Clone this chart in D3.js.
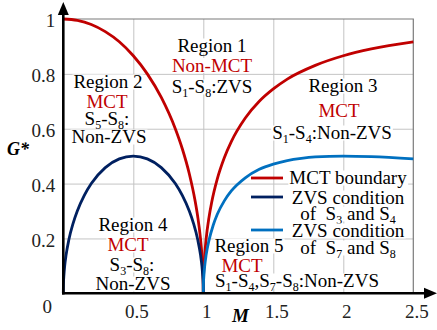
<!DOCTYPE html>
<html>
<head>
<meta charset="utf-8">
<script src="https://cdn.jsdelivr.net/npm/d3@7"></script>
</head>
<body style="margin:0">
<svg id="chart" width="437" height="330"></svg>
<script>
// values: [M, G*]
const mctBelow = [
  [0, 1], [0.1, 0.995], [0.2, 0.98], [0.3, 0.954], [0.4, 0.917], [0.5, 0.866],
  [0.6, 0.8], [0.7, 0.714], [0.8, 0.6], [0.85, 0.527], [0.9, 0.436], [0.94, 0.341],
  [0.96, 0.28], [0.98, 0.199], [0.99, 0.141], [0.995, 0.1], [0.999, 0.045], [1, 0]
];
const mctAbove = [
  [1, 0], [1.001, 0.045], [1.005, 0.1], [1.01, 0.14], [1.02, 0.197], [1.04, 0.275],
  [1.06, 0.332], [1.1, 0.417], [1.15, 0.494], [1.2, 0.553], [1.3, 0.639], [1.4, 0.7],
  [1.5, 0.745], [1.6, 0.781], [1.8, 0.831], [2, 0.866], [2.2, 0.891], [2.5, 0.917]
];
const zvsS3S4 = [
  [0, 0], [0.001, 0.032], [0.005, 0.07], [0.01, 0.1], [0.02, 0.14], [0.04, 0.196],
  [0.07, 0.255], [0.1, 0.3], [0.15, 0.357], [0.2, 0.4], [0.3, 0.458], [0.4, 0.49],
  [0.5, 0.5], [0.6, 0.49], [0.7, 0.458], [0.8, 0.4], [0.85, 0.357], [0.9, 0.3],
  [0.93, 0.255], [0.96, 0.196], [0.98, 0.14], [0.99, 0.1], [0.995, 0.07],
  [0.999, 0.032], [1, 0]
];
const zvsS7S8 = [
  [1, 0], [1.001, 0.032], [1.005, 0.07], [1.01, 0.099], [1.02, 0.139], [1.04, 0.192],
  [1.07, 0.247], [1.1, 0.288], [1.15, 0.337], [1.2, 0.373], [1.3, 0.421], [1.4, 0.452],
  [1.5, 0.471], [1.6, 0.484], [1.7, 0.492], [1.8, 0.497], [2, 0.5], [2.2, 0.498],
  [2.5, 0.49]
];

const xTicks = [0.5, 1, 1.5, 2, 2.5];
const yTicks = [0.2, 0.4, 0.6, 0.8, 1];
const xGrid = [0.5, 1, 1.5, 2];
const yGrid = [0.2, 0.4, 0.6, 0.8];

const region1Text = ["Region 1", "Non-MCT", "S_1-S_8:ZVS"];
const region2Text = ["Region 2", "MCT", "S_5-S_8:", "Non-ZVS"];
const region3Text = ["Region 3", "MCT", "S_1-S_4:Non-ZVS"];
const region4Text = ["Region 4", "MCT", "S_3-S_8:", "Non-ZVS"];
const region5Text = ["Region 5", "MCT", "S_1-S_4,S_7-S_8:Non-ZVS"];

const legendNames = ["MCT boundary", ["ZVS condition", "of\u00a0 S_3 and S_4"], ["ZVS condition", "of\u00a0 S_7 and S_8"]];

const red = "#c00000", navy = "#002060", blue = "#0070c0";
const serif = "Liberation Serif";

const svg = d3.select("#chart");
const x = d3.scaleLinear().domain([0, 2.5]).range([63.3, 413.3]);
const y = d3.scaleLinear().domain([0, 1]).range([293.3, 19]);

// grid
svg.append("g")
  .attr("transform", "translate(0," + y(0) + ")")
  .call(d3.axisBottom(x).tickValues(xGrid).tickSize(-(y(0) - y(1))).tickFormat(""))
  .call(g => g.select(".domain").remove())
  .selectAll("line").attr("stroke", "#c4c4c4").attr("stroke-width", 1);

svg.append("g")
  .attr("transform", "translate(" + x(0) + ",0)")
  .call(d3.axisLeft(y).tickValues(yGrid).tickSize(-(x(2.5) - x(0))).tickFormat(""))
  .call(g => g.select(".domain").remove())
  .selectAll("line").attr("stroke", "#c4c4c4").attr("stroke-width", 1);

// frame top and right
svg.append("path")
  .attr("d", "M" + x(0) + "," + y(1) + "H" + x(2.5) + "V" + y(0))
  .attr("fill", "none").attr("stroke", "#7a7a7a").attr("stroke-width", 1.2);

// text with _n subscripts
function richText(g, str, px, py, anchor, color) {
  const t = g.append("text")
    .attr("font-family", serif)
    .attr("font-size", 19)
    .attr("x", px).attr("y", py)
    .attr("text-anchor", anchor)
    .attr("fill", color);
  const parts = str.split(/_(\d)/);
  parts.forEach((p, i) => {
    if (i % 2 === 1) {
      t.append("tspan").attr("font-size", 12).attr("dy", 4).text(p);
    } else if (p) {
      t.append("tspan").attr("dy", i > 0 ? -4 : 0).text(p);
    }
  });
  return t;
}

function labelLine(str, px, py, anchor, color) {
  const g = svg.append("g");
  const bg = g.append("rect").attr("fill", "#fff");
  const t = richText(g, str, px, py, anchor, color);
  const b = t.node().getBBox();
  bg.attr("x", b.x - 1).attr("width", b.width + 2)
    .attr("y", py - 13.5).attr("height", 15);
}

const regions = [
  { lines: region1Text, xs: [212, 212, 212], ys: [52, 71.5, 93] },
  { lines: region2Text, xs: [108, 107, 107, 109], ys: [88, 108, 125, 143] },
  { lines: region3Text, xs: [343, 339, 332], ys: [92, 117, 139] },
  { lines: region4Text, xs: [133, 128, 132, 133], ys: [231, 251, 271, 290] },
  { lines: region5Text, xs: [249, 242, 297], ys: [252, 272, 287] }
];
regions.forEach(r => {
  r.lines.forEach((s, i) => labelLine(s, r.xs[i], r.ys[i], "middle", i === 1 ? red : "#000"));
});

// curves
const line = d3.line().x(d => x(d[0])).y(d => y(d[1])).curve(d3.curveMonotoneX);
[[mctBelow, red], [mctAbove, red], [zvsS3S4, navy], [zvsS7S8, blue]].forEach(([d, c]) => {
  svg.append("path").datum(d)
    .attr("d", line)
    .attr("fill", "none").attr("stroke", c).attr("stroke-width", 2.8);
});

// tick labels
svg.append("g")
  .attr("transform", "translate(0," + y(0) + ")")
  .call(d3.axisBottom(x).tickValues(xTicks).tickSize(0).tickPadding(11).tickFormat(d3.format("")))
  .call(g => g.select(".domain").remove())
  .selectAll("text")
    .attr("dx", 3)
    .attr("font-family", serif).attr("font-size", 19)
    .attr("fill", "#222");

svg.append("g")
  .attr("transform", "translate(" + x(0) + ",0)")
  .call(d3.axisLeft(y).tickValues(yTicks).tickSize(0).tickPadding(8).tickFormat(d3.format("")))
  .call(g => g.select(".domain").remove())
  .selectAll("text")
    .attr("dy", "0.42em")
    .attr("font-family", serif).attr("font-size", 19)
    .attr("fill", "#222");

svg.append("text")
  .attr("font-family", serif).attr("font-size", 19)
  .attr("x", x(0) - 16).attr("y", y(0) + 20)
  .attr("text-anchor", "middle").attr("fill", "#222")
  .text("0");

// axes with arrows
svg.append("line")
  .attr("x1", x(0)).attr("x2", x(0)).attr("y1", y(0) + 1.3).attr("y2", 14)
  .attr("stroke", "#000").attr("stroke-width", 2.6);
svg.append("path")
  .attr("d", "M" + x(0) + ",2L" + (x(0) - 5.5) + ",15L" + (x(0) + 5.5) + ",15Z")
  .attr("fill", "#000");
svg.append("line")
  .attr("x1", x(0) - 1.3).attr("x2", 425).attr("y1", y(0)).attr("y2", y(0))
  .attr("stroke", "#000").attr("stroke-width", 2.6);
svg.append("path")
  .attr("d", "M437," + y(0) + "L424," + (y(0) - 5.5) + "L424," + (y(0) + 5.5) + "Z")
  .attr("fill", "#000");

// axis titles
svg.append("text")
  .attr("font-family", serif).attr("font-size", 18)
  .attr("font-weight", "bold").attr("font-style", "italic")
  .attr("x", 7).attr("y", 155)
  .text("G*");
svg.append("text")
  .attr("font-family", serif).attr("font-size", 19)
  .attr("font-weight", "bold").attr("font-style", "italic")
  .attr("x", 240.5).attr("y", 322)
  .attr("text-anchor", "middle")
  .text("M");

// legend
const legendColors = [red, navy, blue];
const legendLineY = [178, 197, 230];
const legendTextY = [[184], [204, 220], [237, 254]];
legendNames.forEach((name, i) => {
  svg.append("line")
    .attr("x1", 251).attr("x2", 283)
    .attr("y1", legendLineY[i]).attr("y2", legendLineY[i])
    .attr("stroke", legendColors[i]).attr("stroke-width", 2.8);
  const rows = Array.isArray(name) ? name : [name];
  rows.forEach((s, j) => labelLine(s, 348, legendTextY[i][j], "middle", "#000"));
});
</script>
</body>
</html>
